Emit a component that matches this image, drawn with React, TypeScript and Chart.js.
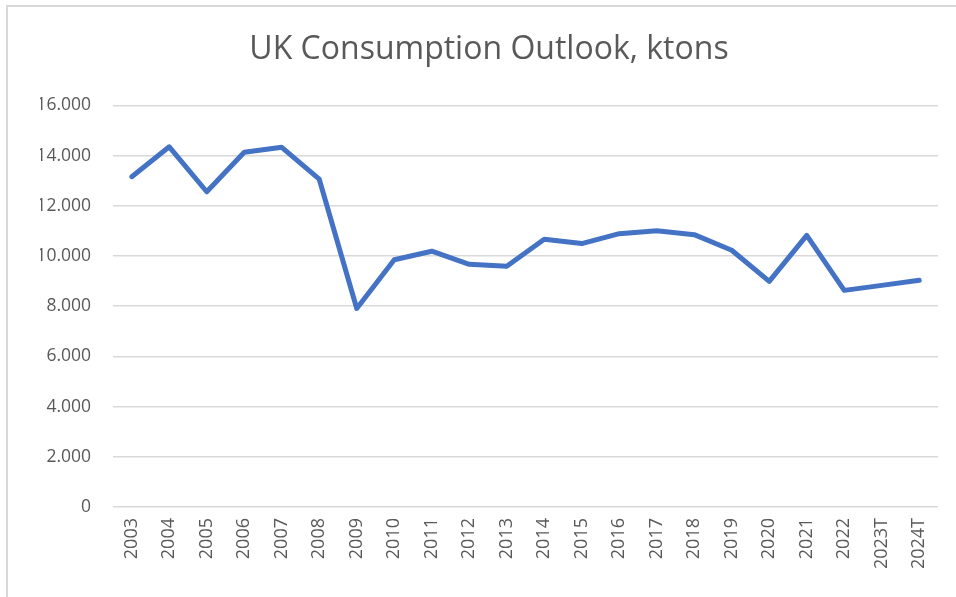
import React, { useEffect, useRef } from "react";
import { Chart, registerables } from "chart.js";

Chart.register(...registerables);

const categories = [
  "2003", "2004", "2005", "2006", "2007", "2008", "2009", "2010", "2011", "2012", "2013",
  "2014", "2015", "2016", "2017", "2018", "2019", "2020", "2021", "2022", "2023T", "2024T",
];

const consumption = [
  13160, 14350, 12560, 14130, 14330, 13060, 7910, 9850, 10190, 9670, 9590,
  10665, 10495, 10890, 11010, 10850, 10230, 8990, 10820, 8630, 8830, 9030,
];

const yTicks = [0, 2000, 4000, 6000, 8000, 10000, 12000, 14000, 16000];

const titleText = "UK Consumption Outlook, ktons";

function fmt(v: number): string {
  if (v === 0) return "0";
  const s = String(Math.round(v));
  return s.replace(/\B(?=(\d{3})+(?!\d))/g, ".");
}

export default function App() {
  const ref = useRef<HTMLCanvasElement | null>(null);

  useEffect(() => {
    document.body.style.margin = "0";
    const canvas = ref.current;
    if (!canvas) return;
    const chart = new Chart(canvas, {
      type: "line",
      data: {
        labels: categories,
        datasets: [
          {
            label: "Consumption",
            data: consumption,
            borderColor: "#4472C4",
            backgroundColor: "#4472C4",
            borderWidth: 5,
            pointRadius: 0,
            tension: 0,
            borderCapStyle: "round",
            borderJoinStyle: "round",
          },
        ],
      },
      options: {
        responsive: false,
        animation: false,
        maintainAspectRatio: false,
        layout: { padding: { left: 40, right: 18, top: 0, bottom: 0 } },
        plugins: {
          legend: { display: false },
          tooltip: { enabled: false },
          title: {
            display: true,
            text: titleText,
            color: "#595959",
            font: { family: "Open Sans", size: 32, weight: "normal" },
            padding: { top: 31, bottom: 36 },
          },
        },
        scales: {
          x: {
            type: "category",
            offset: true,
            grid: { display: false, drawTicks: false },
            border: { display: false },
            ticks: {
              color: "#595959",
              font: { family: "Open Sans", size: 18 },
              maxRotation: 90,
              minRotation: 90,
              autoSkip: false,
              padding: 11,
            },
            afterFit: (scale: any) => {
              scale.height = 90;
            },
          },
          y: {
            min: 0,
            max: 16000,
            afterBuildTicks: (scale: any) => {
              scale.ticks = yTicks.map((v) => ({ value: v }));
            },
            grid: { color: "#d9d9d9", lineWidth: 1.5, drawTicks: false },
            border: { display: false },
            ticks: {
              color: "#595959",
              font: { family: "Open Sans", size: 17.5 },
              padding: 22,
              callback: (v: any) => fmt(Number(v)),
            },
            afterFit: (scale: any) => {
              scale.width = 73;
            },
          },
        },
      },
    } as any);
    return () => chart.destroy();
  }, []);

  return (
    <div style={{ position: "relative", width: 956, height: 597, background: "#fff" }}>
      <canvas ref={ref} width={956} height={597} style={{ display: "block" }} />
      <div
        style={{
          position: "absolute",
          left: 6,
          top: 5,
          width: 950,
          height: 592,
          borderTop: "2px solid #d9d9d9",
          borderLeft: "2px solid #d9d9d9",
          pointerEvents: "none",
        }}
      />
    </div>
  );
}
